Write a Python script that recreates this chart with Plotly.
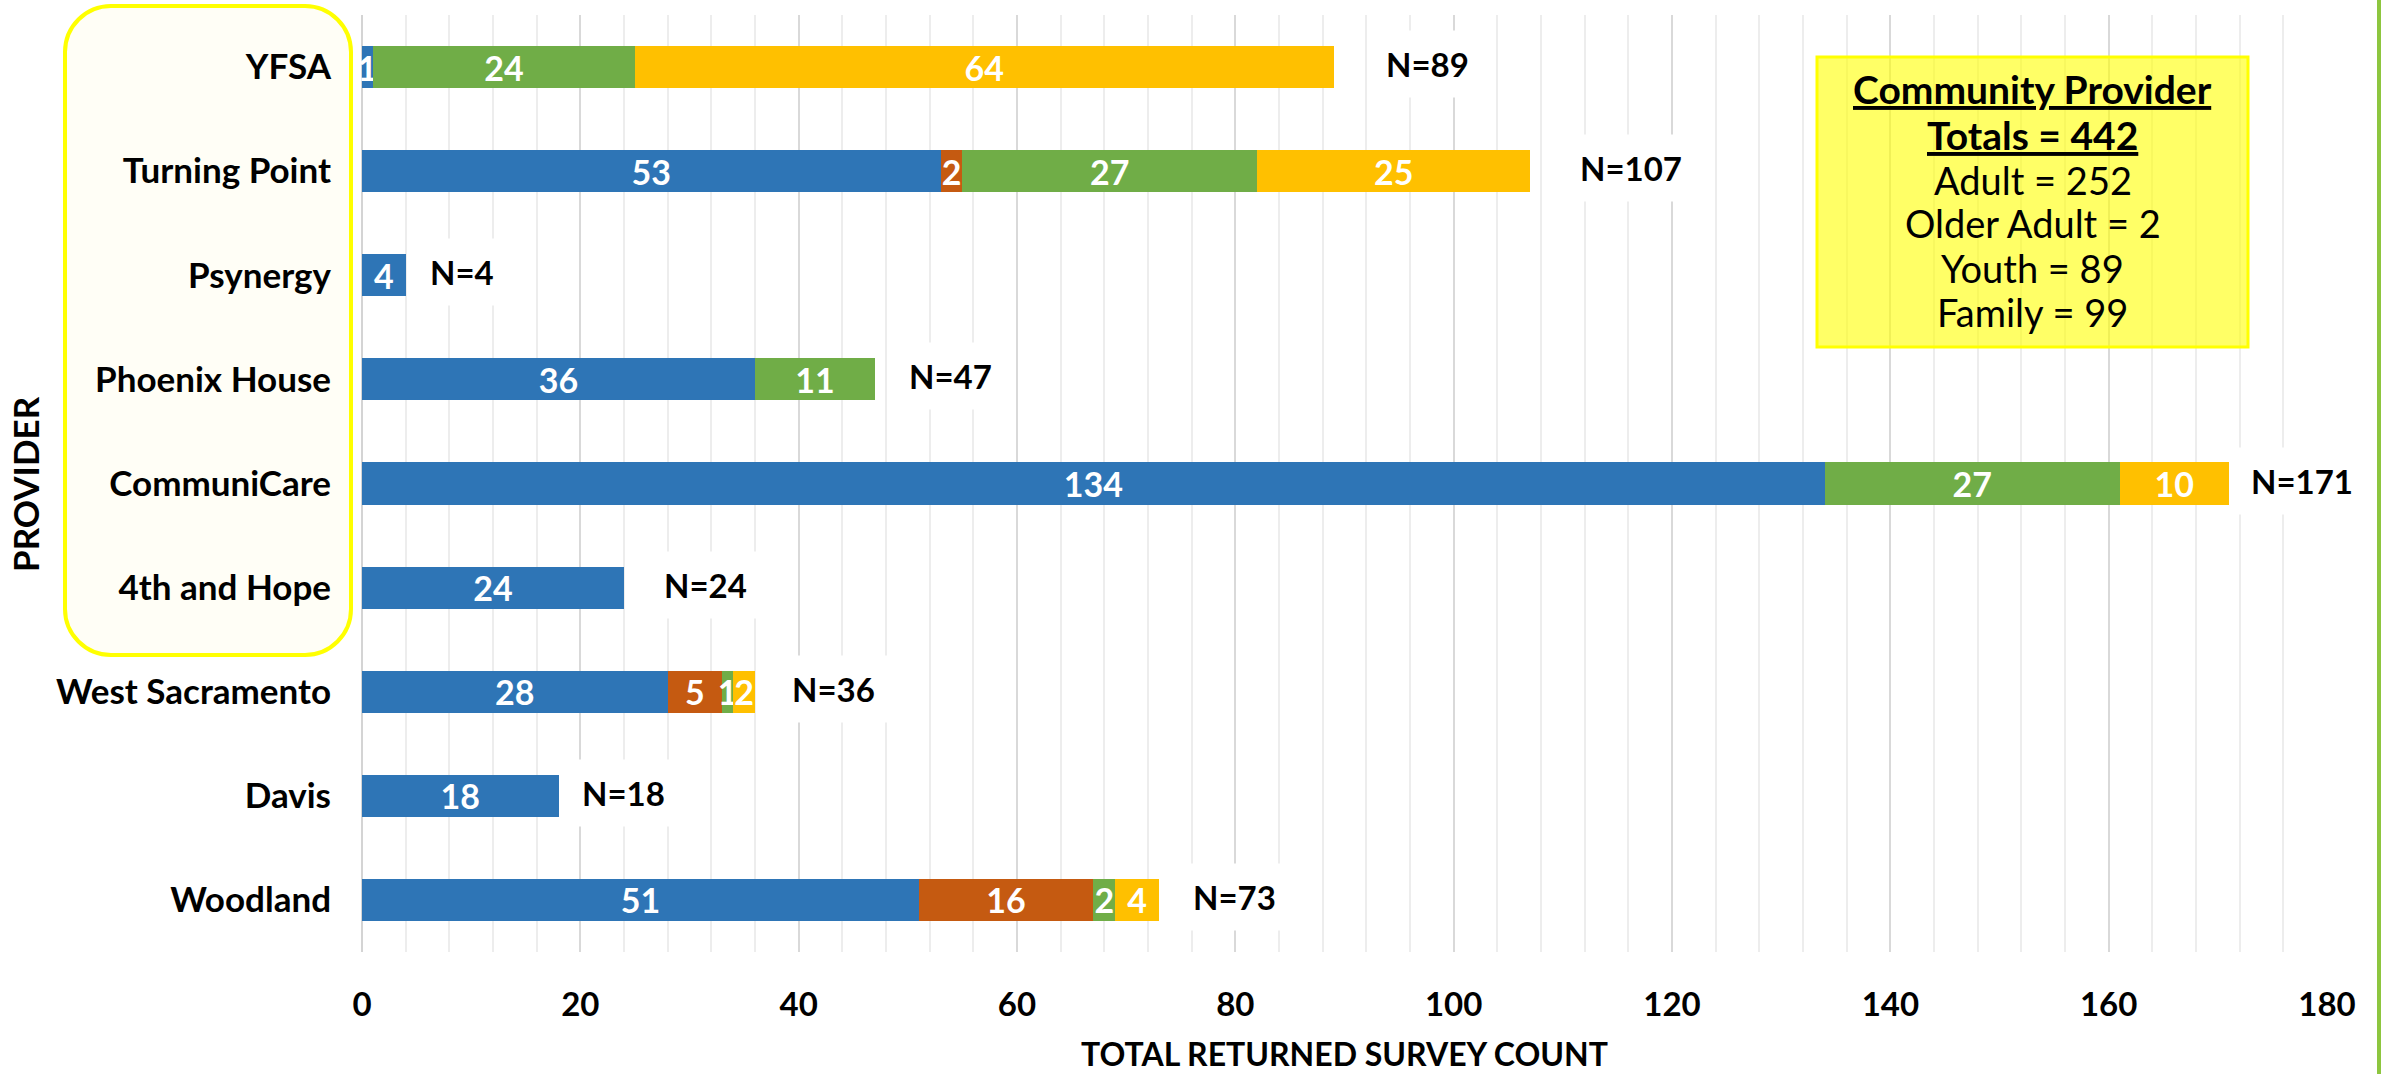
import plotly.graph_objects as go

# Providers, listed top to bottom
providers = ["YFSA", "Turning Point", "Psynergy", "Phoenix House", "CommuniCare",
             "4th and Hope", "West Sacramento", "Davis", "Woodland"]

# Returned survey counts per provider and survey type
adult = [1, 53, 4, 36, 134, 24, 28, 18, 51]
older_adult = [0, 2, 0, 0, 0, 0, 5, 0, 16]
youth = [24, 27, 0, 11, 27, 0, 1, 0, 2]
family = [64, 25, 0, 0, 10, 0, 2, 0, 4]

series_names = ["Adult", "Older Adult", "Youth", "Family"]
series_colors = ["#2E75B6", "#C55A11", "#70AD47", "#FFC000"]

# Community provider summary box
summary_title = ["Community Provider", "Totals = 442"]
summary_lines = ["Adult = 252", "Older Adult = 2", "Youth = 89", "Family = 99"]

# Horizontal pixel gap between each bar end and its "N=" label
n_label_gap = [94, 101, 56, 75, 73, 81, 78, 65, 76]

W, H = 2381, 1074
PL, PR, PT, PB = 362, 2327, 15, 952  # plot area in pixels


def px(x):
    return (x - PL) / (PR - PL)


def py(y):
    return (PB - y) / (PB - PT)


FONT = "Lato"
fig = go.Figure()

for name, vals, color in zip(series_names, [adult, older_adult, youth, family], series_colors):
    fig.add_trace(go.Bar(
        y=providers, x=vals, name=name, orientation="h",
        marker=dict(color=color, line=dict(width=0)),
        text=[str(v) if v else "" for v in vals],
        textposition="inside", insidetextanchor="middle", textangle=0,
        textfont=dict(family=FONT, size=34, color="white", weight="bold"),
        cliponaxis=False,
    ))

totals = [a + b + c + d for a, b, c, d in zip(adult, older_adult, youth, family)]

annotations = []
for prov, tot, gap in zip(providers, totals, n_label_gap):
    annotations.append(dict(
        x=tot, y=prov, xref="x", yref="y", text=f"<b>N={tot}</b>",
        showarrow=False, xanchor="center", yanchor="middle", xshift=gap, yshift=3,
        font=dict(family=FONT, size=33, color="black"),
        bgcolor="white", borderpad=13,
    ))

# Summary box text
box_y = [89, 135, 180, 223, 268, 312]
box_x = px((1817 + 2248) / 2)
for i, t in enumerate(summary_title + summary_lines):
    bold = i < len(summary_title)
    annotations.append(dict(
        x=box_x, y=py(box_y[i]), xref="paper", yref="paper",
        text=f"<b>{t}</b>" if bold else t, showarrow=False,
        xanchor="center", yanchor="middle",
        font=dict(family=FONT, size=39 if bold else 38, color="black",
                  lineposition="under" if bold else "none"),
    ))

# Axis titles
annotations.append(dict(
    x=px(25), y=py(484), xref="paper", yref="paper", text="<b>PROVIDER</b>",
    showarrow=False, textangle=-90, xanchor="center", yanchor="middle",
    font=dict(family=FONT, size=35, color="black"),
))
annotations.append(dict(
    x=0.5, y=py(1053), xref="paper", yref="paper", text="<b>TOTAL RETURNED SURVEY COUNT</b>",
    showarrow=False, xanchor="center", yanchor="middle",
    font=dict(family=FONT, size=32, color="black"),
))


def rounded_rect_path(x0, y0, x1, y1, r):
    k = 0.5523 * r
    pts = [
        f"M {px(x0 + r)} {py(y0)}",
        f"L {px(x1 - r)} {py(y0)}",
        f"C {px(x1 - r + k)} {py(y0)} {px(x1)} {py(y0 + r - k)} {px(x1)} {py(y0 + r)}",
        f"L {px(x1)} {py(y1 - r)}",
        f"C {px(x1)} {py(y1 - r + k)} {px(x1 - r + k)} {py(y1)} {px(x1 - r)} {py(y1)}",
        f"L {px(x0 + r)} {py(y1)}",
        f"C {px(x0 + r - k)} {py(y1)} {px(x0)} {py(y1 - r + k)} {px(x0)} {py(y1 - r)}",
        f"L {px(x0)} {py(y0 + r)}",
        f"C {px(x0)} {py(y0 + r - k)} {px(x0 + r - k)} {py(y0)} {px(x0 + r)} {py(y0)}",
        "Z",
    ]
    return " ".join(pts)


shapes = [
    # Highlight around the community provider names
    dict(type="path", xref="paper", yref="paper", layer="below",
         path=rounded_rect_path(65, 6, 351, 655, 46),
         fillcolor="#FFFEF6", line=dict(color="#FFFF00", width=4)),
    # Summary box
    dict(type="rect", xref="paper", yref="paper", layer="above",
         x0=px(1817), x1=px(2248), y0=py(347), y1=py(57),
         fillcolor="rgba(255,255,0,0.6)", line=dict(color="#FFFF00", width=3)),
    # Accent strip on the right edge
    dict(type="rect", xref="paper", yref="paper", layer="above",
         x0=px(2377), x1=px(2383), y0=py(H), y1=py(0),
         fillcolor="#8DC63F", line=dict(width=0)),
]

fig.update_layout(
    width=W, height=H,
    margin=dict(l=PL, r=W - PR, t=PT, b=H - PB, pad=0),
    barmode="stack", bargap=0.596,
    showlegend=False,
    plot_bgcolor="white", paper_bgcolor="white",
    uniformtext=dict(minsize=34, mode="show"),
    annotations=annotations, shapes=shapes,
    xaxis=dict(
        range=[0, 180], dtick=20, tick0=0,
        showgrid=True, gridcolor="#D9D9D9", gridwidth=2,
        minor=dict(dtick=4, showgrid=True, gridcolor="#EDEDED", gridwidth=2),
        zeroline=True, zerolinecolor="#D4D4D4", zerolinewidth=2,
        showline=False, ticks="",
        tickfont=dict(family=FONT, size=33, color="black", weight="bold"),
        ticklabelstandoff=30, fixedrange=True,
    ),
    yaxis=dict(
        autorange="reversed", showgrid=False, ticks="", showline=False,
        tickfont=dict(family=FONT, size=35, color="black", weight="bold"),
        ticklabelstandoff=30, fixedrange=True,
    ),
)

fig.write_html("out.html")
